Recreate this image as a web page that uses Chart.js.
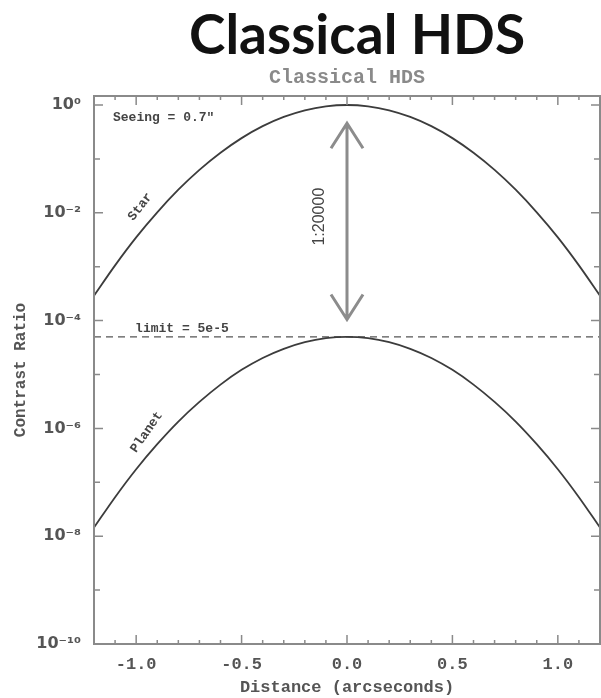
<!DOCTYPE html>
<html>
<head>
<meta charset="utf-8">
<script src="https://cdn.jsdelivr.net/npm/chart.js@4"></script>
<style>
	body { margin: 0; background: #fff; }
	#wrap { position: relative; width: 601px; height: 698px; }
	#bigTitle {
		position: absolute; left: 189px; top: 0px; margin: 0;
		font: bold 55px Lato, "Open Sans", sans-serif; color: #111; white-space: nowrap;
	}
	canvas { position: absolute; left: 0; top: 0; }
</style>
</head>
<body>
<div id="wrap">
	<canvas id="hdsChart" width="601" height="698"></canvas>
	<h1 id="bigTitle">Classical HDS</h1>
</div>
<script>
// Distance from the star (arcseconds)
const distance = [-1.2, -1.1, -1.0, -0.9, -0.8, -0.7, -0.6, -0.5, -0.4, -0.3, -0.2, -0.1, 0.0,
	0.1, 0.2, 0.3, 0.4, 0.5, 0.6, 0.7, 0.8, 0.9, 1.0, 1.1, 1.2];

// Contrast (seeing = 0.7")
const starContrast = [2.9e-4, 1.06e-3, 3.5e-3, 1.02e-2, 2.68e-2, 6.25e-2, 0.130, 0.243, 0.405, 0.601, 0.798, 0.945, 1.0,
	0.945, 0.798, 0.601, 0.405, 0.243, 0.130, 6.25e-2, 2.68e-2, 1.02e-2, 3.5e-3, 1.06e-3, 2.9e-4];
const planetContrast = [1.45e-8, 5.3e-8, 1.75e-7, 5.1e-7, 1.34e-6, 3.1e-6, 6.5e-6, 1.22e-5, 2.03e-5, 3.0e-5, 3.99e-5, 4.73e-5, 5.0e-5,
	4.73e-5, 3.99e-5, 3.0e-5, 2.03e-5, 1.22e-5, 6.5e-6, 3.1e-6, 1.34e-6, 5.1e-7, 1.75e-7, 5.3e-8, 1.45e-8];
const limitContrast = [5e-5, 5e-5];
const limitDistance = [-1.2, 1.2];

// Tick labels
const xTickValues = [-1.0, -0.5, 0.0, 0.5, 1.0];
const xTickLabels = ['-1.0', '-0.5', '0.0', '0.5', '1.0'];
const yTickValues = [1e-10, 1e-9, 1e-8, 1e-7, 1e-6, 1e-5, 1e-4, 1e-3, 1e-2, 1e-1, 1];
const yTickLabels = ['10⁻¹⁰', '', '10⁻⁸', '', '10⁻⁶', '', '10⁻⁴', '', '10⁻²', '', '10⁰'];

const monoFont = '"Liberation Mono", "DejaVu Sans Mono", monospace';

// Frame, inward ticks and the text/arrow annotations
const framePlugin = {
	id: 'frame',
	afterDraw(chart) {
		const {ctx, chartArea: a, scales: {x, y}} = chart;
		ctx.save();
		ctx.strokeStyle = '#8a8a8a';
		ctx.lineWidth = 2;
		ctx.strokeRect(a.left, a.top, a.right - a.left, a.bottom - a.top);

		// x ticks, every 0.1, longer every 0.5
		ctx.lineWidth = 1.5;
		for (let i = -12; i <= 12; i++) {
			const px = x.getPixelForValue(i / 10);
			const len = i % 5 === 0 ? 9 : 4;
			ctx.beginPath();
			ctx.moveTo(px, a.bottom); ctx.lineTo(px, a.bottom - len);
			ctx.moveTo(px, a.top); ctx.lineTo(px, a.top + len);
			ctx.stroke();
		}
		// y ticks, every decade
		yTickValues.forEach((v, i) => {
			const py = y.getPixelForValue(v);
			const len = yTickLabels[i] ? 9 : 6;
			ctx.beginPath();
			ctx.moveTo(a.left, py); ctx.lineTo(a.left + len, py);
			ctx.moveTo(a.right, py); ctx.lineTo(a.right - len, py);
			ctx.stroke();
		});

		// text labels
		ctx.fillStyle = '#444';
		ctx.font = 'bold 13px ' + monoFont;
		ctx.textBaseline = 'middle';
		ctx.textAlign = 'left';
		ctx.fillText('Seeing = 0.7"', x.getPixelForValue(-1.11), y.getPixelForValue(0.575));
		ctx.textBaseline = 'bottom';
		ctx.fillText('limit = 5e-5', x.getPixelForValue(-1.005), y.getPixelForValue(5e-5) - 2);

		const rotText = (txt, dx, dy, ang, font) => {
			ctx.save();
			ctx.translate(x.getPixelForValue(dx), y.getPixelForValue(dy));
			ctx.rotate(ang * Math.PI / 180);
			ctx.font = font;
			ctx.textAlign = 'center';
			ctx.textBaseline = 'middle';
			ctx.fillText(txt, 0, 0);
			ctx.restore();
		};
		rotText('Star', -0.98, 1.29e-2, -52, 'bold 13px ' + monoFont);
		rotText('Planet', -0.95, 8.5e-7, -55, 'bold 13px ' + monoFont);
		rotText('1:20000', -0.128, 8.5e-3, -90, '16px "Liberation Sans", Arial, sans-serif');

		// double headed arrow
		const ax = x.getPixelForValue(0);
		const top = y.getPixelForValue(0.46);
		const bot = y.getPixelForValue(1.05e-4);
		ctx.strokeStyle = '#8c8c8c';
		ctx.lineWidth = 3;
		ctx.beginPath();
		ctx.moveTo(ax, top); ctx.lineTo(ax, bot);
		ctx.moveTo(ax - 16, top + 25); ctx.lineTo(ax, top); ctx.lineTo(ax + 16, top + 25);
		ctx.moveTo(ax - 16, bot - 25); ctx.lineTo(ax, bot); ctx.lineTo(ax + 16, bot - 25);
		ctx.stroke();
		ctx.restore();
	}
};

const ctx = document.getElementById('hdsChart');
new Chart(ctx, {
	type: 'line',
	data: {
		datasets: [
			{
				label: 'Star',
				data: distance.map((d, i) => ({x: d, y: starContrast[i]})),
				borderColor: '#3c3c3c',
				borderWidth: 1.8,
				pointRadius: 0,
				cubicInterpolationMode: 'monotone',
			},
			{
				label: 'Planet',
				data: distance.map((d, i) => ({x: d, y: planetContrast[i]})),
				borderColor: '#3c3c3c',
				borderWidth: 1.8,
				pointRadius: 0,
				cubicInterpolationMode: 'monotone',
			},
			{
				label: 'limit',
				data: limitDistance.map((d, i) => ({x: d, y: limitContrast[i]})),
				borderColor: '#555',
				borderWidth: 1.4,
				borderDash: [7, 5],
				pointRadius: 0,
			},
		],
	},
	options: {
		responsive: false,
		animation: false,
		layout: {
			padding: {top: 66, right: 1, left: 0, bottom: 0},
		},
		plugins: {
			legend: {display: false},
			tooltip: {enabled: false},
			title: {
				display: true,
				text: 'Classical HDS',
				fullSize: false,
				color: '#8a8a8a',
				font: {family: monoFont, size: 20},
				padding: {top: 0, bottom: 6},
			},
		},
		scales: {
			x: {
				type: 'linear',
				min: -1.2,
				max: 1.2,
				grid: {display: false},
				border: {display: false},
				afterBuildTicks: (scale) => {
					scale.ticks = xTickValues.map(v => ({value: v}));
				},
				afterFit: (scale) => { scale.height = 54; },
				ticks: {
					color: '#555',
					font: {family: monoFont, size: 17, weight: 'bold'},
					padding: 3,
					maxRotation: 0,
					callback: (v) => xTickLabels[xTickValues.indexOf(v)],
				},
				title: {
					display: true,
					text: 'Distance (arcseconds)',
					color: '#555',
					font: {family: monoFont, size: 17, weight: 'bold'},
					padding: {top: 0, bottom: 0},
				},
			},
			y: {
				type: 'logarithmic',
				min: 1e-10,
				max: 1.47,
				grid: {display: false},
				border: {display: false},
				afterBuildTicks: (scale) => {
					scale.ticks = yTickValues.map(v => ({value: v}));
				},
				afterFit: (scale) => { scale.width = 94; },
				ticks: {
					color: '#555',
					font: {family: '"DejaVu Sans", sans-serif', size: 16, weight: 'bold'},
					padding: 5,
					autoSkip: false,
					callback: (v) => yTickLabels[yTickValues.indexOf(v)],
				},
				title: {
					display: true,
					text: 'Contrast Ratio',
					color: '#555',
					font: {family: monoFont, size: 16, weight: 'bold'},
					padding: {top: 11, bottom: 0},
				},
			},
		},
	},
	plugins: [framePlugin],
});
</script>
</body>
</html>
